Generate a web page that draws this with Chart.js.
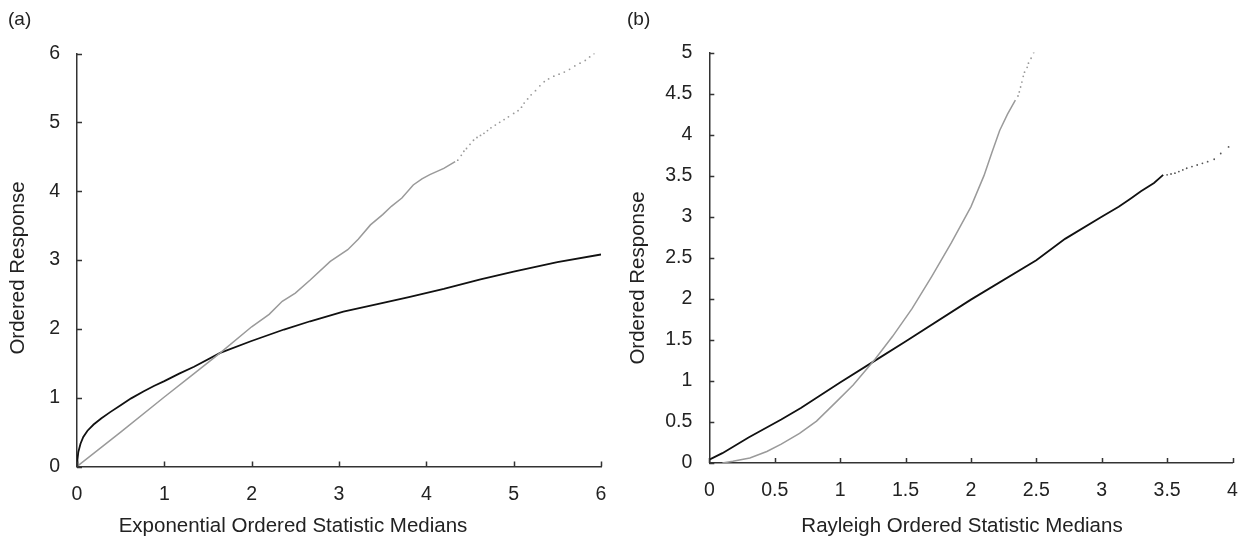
<!DOCTYPE html>
<html>
<head>
<meta charset="utf-8">
<script src="https://cdn.jsdelivr.net/npm/chart.js@4/dist/chart.umd.min.js"></script>
<style>
  html, body { margin: 0; padding: 0; background: #fff; }
  #wrap { position: relative; width: 1255px; height: 540px; overflow: hidden; }
  .panel { position: absolute; top: 0; }
  .tag { position: absolute; top: 8px; font: 19px "Liberation Sans", Arial, sans-serif; color: #222; }
</style>
</head>
<body>
<div id="wrap">
  <canvas id="chartA" class="panel" width="625" height="540" style="left:0"></canvas>
  <canvas id="chartB" class="panel" width="630" height="540" style="left:625px"></canvas>
  <div class="tag" style="left:8px">(a)</div>
  <div class="tag" style="left:627px">(b)</div>
</div>
<script>
// ---- Panel (a): exponential ordered statistic medians ----
const aXTicks = [0, 1, 2, 3, 4, 5, 6];
const aXTickLabels = ['0', '1', '2', '3', '4', '5', '6'];
const aYTicks = [0, 1, 2, 3, 4, 5, 6];
const aYTickLabels = ['0', '1', '2', '3', '4', '5', '6'];

// gray: response vs exponential medians (dense part)
const aGrayLine = [
  [0, 0], [0.5, 0.5], [1.0, 1.01], [1.3, 1.31], [1.64, 1.65], [2.0, 2.03],
  [2.2, 2.21], [2.35, 2.4], [2.5, 2.52], [2.67, 2.71], [2.9, 2.98], [3.1, 3.15],
  [3.22, 3.3], [3.36, 3.51], [3.5, 3.66], [3.6, 3.78], [3.72, 3.9], [3.85, 4.09],
  [3.95, 4.18], [4.04, 4.24], [4.2, 4.33], [4.33, 4.43]
];
// gray: sparse upper tail
const aGrayTail = [
  [4.36, 4.45], [4.40, 4.52], [4.43, 4.58], [4.46, 4.62], [4.50, 4.68], [4.54, 4.74],
  [4.58, 4.78], [4.62, 4.81], [4.66, 4.84], [4.70, 4.88], [4.74, 4.92], [4.79, 4.96],
  [4.84, 5.00], [4.89, 5.04], [4.94, 5.08], [5.00, 5.13], [5.05, 5.17], [5.09, 5.22],
  [5.12, 5.28], [5.16, 5.34], [5.20, 5.40], [5.25, 5.46], [5.30, 5.53], [5.35, 5.59],
  [5.40, 5.63], [5.46, 5.67], [5.52, 5.70], [5.58, 5.73], [5.64, 5.77], [5.70, 5.82],
  [5.76, 5.86], [5.82, 5.90], [5.87, 5.95], [5.92, 6.00]
];
// black: response vs exponential medians
const aBlackLine = [
  [0, 0], [0.005, 0.1], [0.015, 0.21], [0.04, 0.33], [0.072, 0.43], [0.12, 0.52],
  [0.19, 0.61], [0.28, 0.7], [0.38, 0.79], [0.5, 0.89], [0.62, 0.99], [0.76, 1.09],
  [0.88, 1.17], [1.0, 1.24], [1.17, 1.35], [1.34, 1.45], [1.64, 1.65], [1.99, 1.82],
  [2.37, 1.99], [2.67, 2.11], [3.05, 2.25], [3.44, 2.36], [3.8, 2.46], [4.2, 2.58],
  [4.62, 2.72], [5.0, 2.83], [5.5, 2.97], [6.0, 3.08]
];

// ---- Panel (b): Rayleigh ordered statistic medians ----
const bXTicks = [0, 0.5, 1, 1.5, 2, 2.5, 3, 3.5, 4];
const bXTickLabels = ['0', '0.5', '1', '1.5', '2', '2.5', '3', '3.5', '4'];
const bYTicks = [0, 0.5, 1, 1.5, 2, 2.5, 3, 3.5, 4, 4.5, 5];
const bYTickLabels = ['0', '0.5', '1', '1.5', '2', '2.5', '3', '3.5', '4', '4.5', '5'];

const bGrayLine = [
  [0.1, 0], [0.18, 0.02], [0.31, 0.06], [0.44, 0.14], [0.55, 0.23], [0.69, 0.36],
  [0.82, 0.51], [0.98, 0.76], [1.1, 0.95], [1.27, 1.27], [1.4, 1.54], [1.55, 1.88],
  [1.7, 2.27], [1.85, 2.68], [2.0, 3.12], [2.1, 3.5], [2.16, 3.78], [2.22, 4.05],
  [2.28, 4.25], [2.34, 4.42]
];
const bGrayTail = [
  [2.36, 4.47], [2.37, 4.52], [2.38, 4.58], [2.39, 4.64], [2.40, 4.71], [2.41, 4.76],
  [2.43, 4.82], [2.44, 4.87], [2.46, 4.93], [2.48, 5.0]
];
const bBlackLine = [
  [0, 0.04], [0.1, 0.12], [0.3, 0.31], [0.55, 0.53], [0.7, 0.67], [1.0, 0.98],
  [1.27, 1.25], [1.5, 1.48], [2.0, 1.99], [2.5, 2.47], [2.72, 2.73], [3.0, 3.0],
  [3.13, 3.12], [3.22, 3.22], [3.3, 3.31], [3.4, 3.41], [3.47, 3.51]
];
const bBlackTail = [
  [3.5, 3.51], [3.53, 3.52], [3.56, 3.53], [3.59, 3.55], [3.62, 3.57], [3.65, 3.59],
  [3.69, 3.61], [3.73, 3.63], [3.77, 3.65], [3.81, 3.67], [3.86, 3.70], [3.91, 3.77],
  [3.97, 3.85]
];

const FONT = '"Liberation Sans", Arial, Helvetica, sans-serif';
const TEXT = '#222';
const AXIS = '#333';
const GRAY = '#9a9a9a';
const BLACK = '#111';

const toXY = pts => pts.map(p => ({ x: p[0], y: p[1] }));

// short tick marks that point into the plotting area
const inwardTicks = {
  id: 'inwardTicks',
  afterDraw(chart) {
    const { ctx, chartArea: a, scales } = chart;
    ctx.save();
    ctx.strokeStyle = AXIS;
    ctx.lineWidth = 1.5;
    ctx.beginPath();
    scales.x.ticks.forEach(t => {
      const px = Math.round(scales.x.getPixelForValue(t.value)) + 0.5;
      ctx.moveTo(px, a.bottom);
      ctx.lineTo(px, a.bottom - 5);
    });
    scales.y.ticks.forEach(t => {
      const py = Math.round(scales.y.getPixelForValue(t.value)) + 0.5;
      ctx.moveTo(a.left, py);
      ctx.lineTo(a.left + 5, py);
    });
    ctx.stroke();
    ctx.restore();
  }
};

// axis titles, placed by the panel's own options
const axisTitles = {
  id: 'axisTitles',
  afterDraw(chart, args, opts) {
    const ctx = chart.ctx;
    ctx.save();
    ctx.fillStyle = TEXT;
    ctx.font = '20.5px ' + FONT;
    ctx.textAlign = 'center';
    ctx.textBaseline = 'middle';
    ctx.fillText(opts.xText, opts.xAt[0], opts.xAt[1]);
    ctx.translate(opts.yAt[0], opts.yAt[1]);
    ctx.rotate(-Math.PI / 2);
    ctx.fillText(opts.yText, 0, 0);
    ctx.restore();
  }
};

function lineSet(pts, color, width) {
  return { data: toXY(pts), showLine: true, borderColor: color, borderWidth: width,
           pointRadius: 0, tension: 0, fill: false };
}
function dotSet(pts, color) {
  return { data: toXY(pts), showLine: false, backgroundColor: color, borderWidth: 0,
           pointRadius: 0.9, pointHoverRadius: 0 };
}

function makeChart(id, cfg) {
  return new Chart(document.getElementById(id), {
    type: 'scatter',
    data: { datasets: cfg.datasets },
    plugins: [inwardTicks, axisTitles],
    options: {
      responsive: false,
      animation: false,
      events: [],
      layout: { padding: cfg.padding },
      plugins: {
        legend: { display: false },
        tooltip: { enabled: false },
        axisTitles: { xText: cfg.xTitle, xAt: cfg.xTitleAt,
                      yText: 'Ordered Response', yAt: cfg.yTitleAt }
      },
      scales: {
        x: {
          type: 'linear', min: cfg.xTicks[0], max: cfg.xTicks[cfg.xTicks.length - 1],
          afterBuildTicks: s => { s.ticks = cfg.xTicks.map(v => ({ value: v })); },
          afterFit: s => { s.height = cfg.xHeight; },
          grid: { display: false, drawTicks: false },
          border: { display: true, color: AXIS, width: 1.5 },
          ticks: { padding: 16, color: TEXT, font: { family: FONT, size: 19.5 },
                   maxRotation: 0, autoSkip: false,
                   callback: (v, i) => cfg.xLabels[i] },
          title: { display: false }
        },
        y: {
          type: 'linear', min: cfg.yTicks[0], max: cfg.yTicks[cfg.yTicks.length - 1],
          afterBuildTicks: s => { s.ticks = cfg.yTicks.map(v => ({ value: v })); },
          afterFit: s => { s.width = cfg.yWidth; },
          grid: { display: false, drawTicks: false },
          border: { display: true, color: AXIS, width: 1.5 },
          ticks: { padding: 17, color: TEXT, font: { family: FONT, size: 19.5 },
                   autoSkip: false, callback: (v, i) => cfg.yLabels[i] },
          title: { display: false }
        }
      }
    }
  });
}

makeChart('chartA', {
  datasets: [
    lineSet(aGrayLine, GRAY, 1.5),
    dotSet(aGrayTail, GRAY),
    lineSet(aBlackLine, BLACK, 1.8)
  ],
  padding: { left: 0, top: 53.5, right: 24, bottom: 0 },
  xTicks: aXTicks, xLabels: aXTickLabels,
  yTicks: aYTicks, yLabels: aYTickLabels,
  xHeight: 73.5, yWidth: 77,
  xTitle: 'Exponential Ordered Statistic Medians',
  xTitleAt: [293, 526], yTitleAt: [18.5, 268]
});

makeChart('chartB', {
  datasets: [
    lineSet(bGrayLine, GRAY, 1.5),
    dotSet(bGrayTail, GRAY),
    lineSet(bBlackLine, BLACK, 1.8),
    dotSet(bBlackTail, '#555')
  ],
  padding: { left: 0, top: 52.5, right: 22.5, bottom: 0 },
  xTicks: bXTicks, xLabels: bXTickLabels,
  yTicks: bYTicks, yLabels: bYTickLabels,
  xHeight: 77, yWidth: 84.3,
  xTitle: 'Rayleigh Ordered Statistic Medians',
  xTitleAt: [337, 526], yTitleAt: [13.5, 278]
});
</script>
</body>
</html>
